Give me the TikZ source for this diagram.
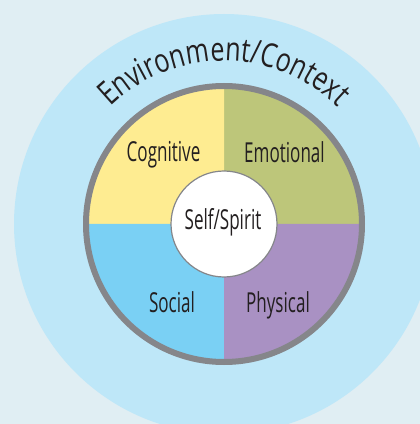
\documentclass[tikz,border=0pt]{standalone}
\usepackage{fontspec}
\usepackage{tikz}
\usetikzlibrary{decorations.text}
\newfontfamily\labelfont[FakeStretch=0.62]{Open Sans}
\newfontfamily\arcfont[FakeStretch=0.76]{Open Sans}
\definecolor{bgcol}{HTML}{E0EEF3}
\definecolor{envcol}{HTML}{BEE7F8}
\definecolor{cogcol}{HTML}{FEEC91}
\definecolor{emocol}{HTML}{BDC67A}
\definecolor{soccol}{HTML}{7AD0F4}
\definecolor{phycol}{HTML}{A991C3}
\definecolor{rimcol}{HTML}{85868A}
\definecolor{inkcol}{HTML}{231F20}
\tikzset{
  quadlabel/.style={font=\labelfont\fontsize{27.5}{32}\selectfont, text=inkcol, anchor=base, inner sep=0pt},
}

\begin{document}
\begin{tikzpicture}[x=1pt,y=1pt]
\fill[bgcol] (0,0) rectangle (420,424);
\useasboundingbox (0,0) rectangle (420,424);
\coordinate (c) at (224,200);
\begin{scope}
\clip (0,0) rectangle (420,424);
\fill[envcol] (c) circle[radius=210]; % environment ring
\end{scope}
% four quadrants
\fill[emocol] (c) -- ++(0:138) arc[start angle=0, end angle=90, radius=138] -- cycle;
\fill[cogcol] (c) -- ++(90:138) arc[start angle=90, end angle=180, radius=138] -- cycle;
\fill[soccol] (c) -- ++(180:138) arc[start angle=180, end angle=270, radius=138] -- cycle;
\fill[phycol] (c) -- ++(270:138) arc[start angle=270, end angle=360, radius=138] -- cycle;
\draw[rimcol, line width=6pt] (c) circle[radius=138]; % outer rim
\draw[rimcol, line width=1.2pt, fill=white] (c) circle[radius=53]; % centre disc
\node[quadlabel] (self) at (223,194) {Self/Spirit};
\node[quadlabel] (cog) at (163.5,262) {Cognitive};
\node[quadlabel] (emo) at (284.5,261) {Emotional};
\node[quadlabel] (soc) at (172,111) {Social};
\node[quadlabel] (phy) at (278,111) {Physical};
% curved title
\path[decorate, decoration={text along path, text align=center,
  text={|\arcfont\fontsize{33}{38}\selectfont\color{inkcol}|Environment/Context}}]
  (c) ++(140:163) arc[start angle=140, end angle=40, radius=163];
\end{tikzpicture}
\end{document}
